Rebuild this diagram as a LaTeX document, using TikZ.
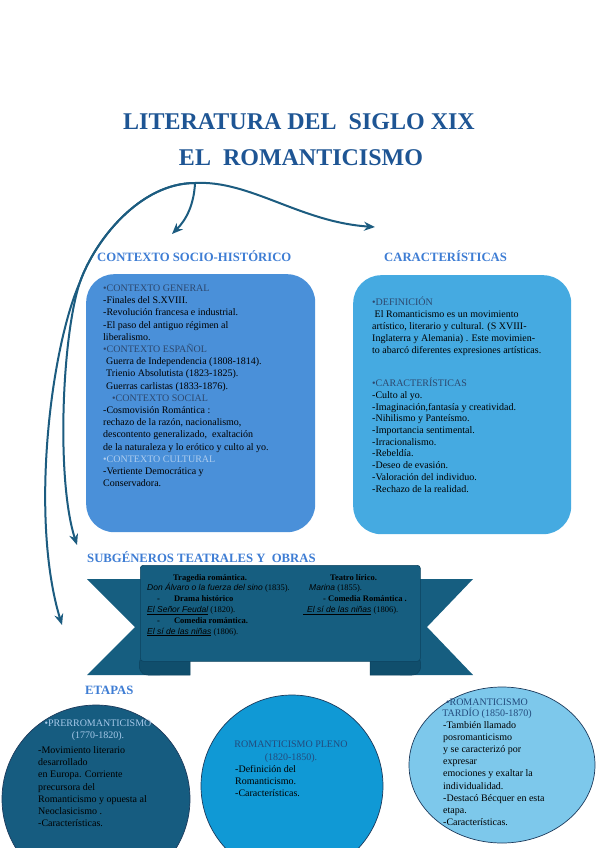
\documentclass[tikz,border=0pt]{standalone}
\usepackage{fontspec}
\setmainfont{Liberation Serif}
\setsansfont{Liberation Sans}
\usetikzlibrary{arrows.meta,shapes.geometric}
\definecolor{titleblue}{RGB}{30,85,148}
\definecolor{headblue}{RGB}{62,125,212}
\definecolor{bannerteal}{RGB}{22,94,128}
\definecolor{bannerline}{RGB}{12,66,94}
\definecolor{folddark}{RGB}{16,78,108}
\definecolor{arrowteal}{RGB}{28,92,128}
\definecolor{leftbox}{RGB}{74,144,217}
\definecolor{rightbox}{RGB}{69,170,225}
\definecolor{circA}{RGB}{22,92,128}
\definecolor{circB}{RGB}{16,153,213}
\definecolor{circC}{RGB}{125,200,235}
\definecolor{circline}{RGB}{28,58,92}
\definecolor{boxhead}{RGB}{45,72,110}
\definecolor{boxheadlight}{RGB}{175,205,238}
\definecolor{circhead}{RGB}{35,75,125}
\definecolor{circheadlight}{RGB}{165,200,232}
\tikzset{
  titletext/.style={anchor=base, inner sep=0, text=titleblue, font=\fontsize{24}{28}\selectfont\bfseries},
  sechead/.style={anchor=base west, inner sep=0, text=headblue, font=\fontsize{12.7}{14}\selectfont\bfseries},
  boxtext/.style={anchor=base west, inner sep=0, align=left, font=\fontsize{10}{12.2}\selectfont},
  bannertext/.style={anchor=base west, inner sep=0, align=left, font=\fontsize{8.5}{10.8}\selectfont},
  circhd/.style={anchor=base, inner sep=0, align=center, font=\fontsize{10}{12}\selectfont},
  arr/.style={draw=arrowteal, line width=2pt, -{Stealth[length=11pt,width=9pt]}},
  roundbox/.style={anchor=north west, rounded corners=28pt, inner sep=0},
  blob/.style={ellipse, draw=circline, line width=0.7pt, inner sep=0},
}
\begin{document}
\begin{tikzpicture}[x=1pt,y=-1pt]
\useasboundingbox[fill=white] (0,0) rectangle (600,848);

% Title
\node[titletext] (title1) at (299,130) {LITERATURA DEL\ \ SIGLO XIX};
\node[titletext] (title2) at (301,165) {EL\ \ ROMANTICISMO};

% Arrows
\coordinate (hub) at (195,183);
\coordinate (split) at (80,282);
\coordinate (ctxtip) at (172,234);
\coordinate (cartip) at (375,227);
\coordinate (subtip) at (77,545);
\coordinate (etatip) at (62,625);
\draw[arr] (hub) .. controls (194,205) and (186,220) .. (ctxtip);
\draw[arr] (hub) .. controls (250,180) and (300,222) .. (cartip);
\draw[arr] (hub) .. controls (140,183) and (95,240) .. (split) .. controls (62,335) and (56,480) .. (subtip);
\draw[arr] (hub) .. controls (140,183) and (95,240) .. (split) .. controls (50,350) and (30,520) .. (etatip);

% Section headings
\node[sechead] (hctx) at (97,261) {CONTEXTO SOCIO-HISTÓRICO};
\node[sechead] (hcar) at (384,261) {CARACTERÍSTICAS};
\node[sechead] (hsub) at (87,562.5) {SUBGÉNEROS TEATRALES Y\ \ OBRAS};
\node[sechead] (heta) at (85,694.5) {ETAPAS};

% Boxes
\node[roundbox, fill=leftbox, minimum width=229pt, minimum height=258pt] (ctxbox) at (86,274) {};
\node[roundbox, fill=rightbox, minimum width=218pt, minimum height=259pt] (carbox) at (353,275) {};

% (multi-line nodes: base anchor = baseline of the last line)
\node[boxtext] (ctxtext) at (103,486.7) {%
\textcolor{boxhead}{•CONTEXTO GENERAL}\\
-Finales del S.XVIII.\\
-Revolución francesa e industrial.\\
-El paso del antiguo régimen al\\
liberalismo.\\
\textcolor{boxhead}{•CONTEXTO ESPAÑOL}\\
\hspace*{3pt}Guerra de Independencia (1808-1814).\\
\hspace*{3pt}Trienio Absolutista (1823-1825).\\
\hspace*{3pt}Guerras carlistas (1833-1876).\\
\hspace*{9pt}\textcolor{boxhead}{•CONTEXTO SOCIAL}\\
-Cosmovisión Romántica :\\
rechazo de la razón, nacionalismo,\\
descontento generalizado,\ \ exaltación\\
de la naturaleza y lo erótico y culto al yo.\\
\textcolor{boxheadlight}{•CONTEXTO CULTURAL}\\
-Vertiente Democrática y\\
Conservadora.};

\node[boxtext, font=\fontsize{10}{12}\selectfont] (deftext) at (372,353.5) {%
\textcolor{boxhead}{•DEFINICIÓN}\\
\hspace*{2.5pt}El Romanticismo es un movimiento\\
artístico, literario y cultural. (S XVIII-\\
Inglaterra y Alemania) . Este movimien-\\
to abarcó diferentes expresiones artísticas.};

\node[boxtext, font=\fontsize{10}{11.67}\selectfont] (cartext) at (372,492) {%
\textcolor{boxhead}{•CARACTERÍSTICAS}\\
-Culto al yo.\\
-Imaginación,fantasía y creatividad.\\
-Nihilismo y Panteísmo.\\
-Importancia sentimental.\\
-Irracionalismo.\\
-Rebeldía.\\
-Deseo de evasión.\\
-Valoración del individuo.\\
-Rechazo de la realidad.};

% Banner
\fill[bannerteal] (87,579) -- (160,579) -- (160,675) -- (87,675) -- (135,627) -- cycle;
\fill[bannerteal] (473,579) -- (400,579) -- (400,675) -- (473,675) -- (427,627) -- cycle;
\filldraw[fill=folddark, draw=bannerline, line width=0.5pt] (140,660) -- (190,660) -- (190,675) -- (148,675) .. controls (140,675) and (138,668) .. (140,660) -- cycle;
\filldraw[fill=folddark, draw=bannerline, line width=0.5pt] (420,660) -- (370,660) -- (370,675) -- (412,675) .. controls (420,675) and (422,668) .. (420,660) -- cycle;
\node[anchor=north west, fill=bannerteal, draw=bannerline, line width=0.6pt, rounded corners=3pt, minimum width=280pt, minimum height=96pt, inner sep=0] (banner) at (140,565) {};

\node[bannertext] (subleft) at (147,634) {%
\hspace*{26pt}\textbf{Tragedia romántica.}\\
\textsf{\itshape Don Álvaro o la fuerza del sino} (1835).\\
\hspace*{10pt}\textbf{-}\hspace*{14pt}\textbf{Drama histórico}\\
\underline{\textsf{\itshape El Señor Feudal}} (1820).\\
\hspace*{10pt}\textbf{-}\hspace*{14pt}\textbf{Comedia romántica.}\\
\underline{\textsf{\itshape El sí de las niñas}} (1806).};

\node[bannertext] (subright) at (303,612.4) {%
\hspace*{27pt}\textbf{Teatro lírico.}\\
\hspace*{6pt}\textsf{\itshape Marina} (1855).\\
\hspace*{20pt}\textbf{- Comedia Romántica .}\\
\underline{\hspace*{4pt}\textsf{\itshape El sí de las niñas}} (1806).};

% Stage circles
\node[blob, fill=circA, minimum width=188pt, minimum height=188pt] (pre) at (96,799) {};
\node[blob, fill=circB, minimum width=182pt, minimum height=182pt] (pleno) at (292,786) {};
\node[blob, fill=circC, minimum width=186pt, minimum height=156pt] (tardio) at (502,765) {};

\node[circhd, text=circheadlight] (prehd) at (98,738.5) {•PRERROMANTICISMO\\(1770-1820).};
\node[boxtext] (pretext) at (38,826.7) {%
-Movimiento literario\\
desarrollado\\
en Europa. Corriente\\
precursora del\\
Romanticismo y opuesta al\\
Neoclasicismo .\\
-Características.};

\node[circhd, text=circhead, font=\fontsize{10}{13}\selectfont] (plenohd) at (291,760.5) {ROMANTICISMO PLENO\\(1820-1850).};
\node[boxtext, font=\fontsize{10}{12}\selectfont] (plenotext) at (235,796.5) {%
-Definición del\\
Romanticismo.\\
-Características.};

\node[circhd, text=circhead, font=\fontsize{10}{10.7}\selectfont] (tardiohd) at (487,716.2) {•ROMANTICISMO\\TARDÍO (1850-1870)};
\node[boxtext, font=\fontsize{10}{12.1}\selectfont] (tardiotext) at (443,825.3) {%
-También llamado\\
posromanticismo\\
y se caracterizó por\\
expresar\\
emociones y exaltar la\\
individualidad.\\
-Destacó Bécquer en esta\\
etapa.\\
-Características.};
\end{tikzpicture}
\end{document}
